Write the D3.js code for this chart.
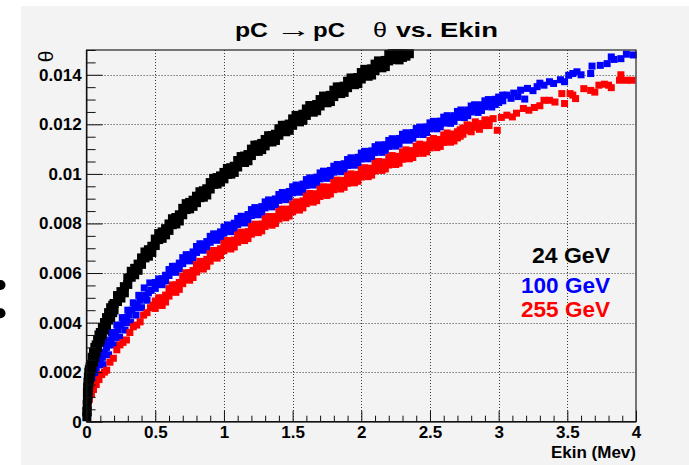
<!DOCTYPE html>
<html><head><meta charset="utf-8">
<script src="https://cdn.jsdelivr.net/npm/d3@7"></script>
<style>
body{margin:0;background:#fff}
svg{display:block}
text{font-family:"Liberation Sans",Arial,Helvetica,sans-serif}
</style>
</head><body>
<svg id="c" width="689" height="465"></svg>
<script>
// ---------- data ----------
const xMajorTicks = [0, 0.5, 1, 1.5, 2, 2.5, 3, 3.5, 4];
const yMajorTicks = [0, 0.002, 0.004, 0.006, 0.008, 0.01, 0.012, 0.014];
const seriesNames = ["24 GeV", "100 GeV", "255 GeV"];
const seriesColors = ["#000000", "#0000ff", "#ff0000"];

// each row: [Ekin (MeV), theta values read at that Ekin ...]
const rows24 = [
[0.002,0.0004,0.0002],[0.004,0.0007,0.0004],[0.006,0.0009,0.0012],[0.008,0.0010,0.0014],[0.01,0.0011,0.0016],
[0.013,0.0013,0.0018],[0.016,0.0015,0.0020],[0.02,0.0017,0.0021],[0.025,0.0018,0.0022],[0.03,0.0020,0.0023],
[0.04,0.0022,0.0026],[0.05,0.0024,0.0028],[0.06,0.0026,0.0030],[0.07,0.0028,0.0031],[0.08,0.0030,0.0033],
[0.09,0.0032,0.0035],[0.1,0.0033,0.0036],[0.115,0.0035,0.0038],[0.13,0.0037,0.0040],[0.145,0.0039,0.0042],
[0.16,0.0041,0.0044],[0.175,0.0042,0.0046],[0.19,0.0044,0.0047],
[0.200,0.00477,0.00451],[0.225,0.00485,0.00509],[0.250,0.00499,0.00525],[0.275,0.00545,0.00520],
[0.300,0.00580,0.00554],[0.325,0.00583,0.00607],[0.350,0.00593,0.00619],[0.375,0.00636,0.00611],
[0.400,0.00661,0.00635],[0.425,0.00661,0.00685],[0.450,0.00668,0.00694],[0.475,0.00708,0.00683],
[0.500,0.00737,0.00711],[0.525,0.00735,0.00759],[0.550,0.00740,0.00766],[0.575,0.00779,0.00754],
[0.600,0.00798,0.00772],[0.625,0.00795,0.00819],[0.650,0.00798,0.00824],[0.675,0.00835,0.00810],
[0.700,0.00861,0.00835],[0.725,0.00856,0.00880],[0.750,0.00859,0.00885],[0.775,0.00894,0.00869],
[0.800,0.00910,0.00884],[0.825,0.00904,0.00928],[0.850,0.00906,0.00932],[0.875,0.00940,0.00915],
[0.900,0.00965,0.00939],[0.925,0.00958,0.00982],[0.950,0.00959,0.00985],[0.975,0.00992,0.00967],
[1.000,0.01006,0.00980],[1.025,0.00998,0.01022],[1.050,0.00999,0.01025],[1.075,0.01031,0.01006],
[1.100,0.01054,0.01028],[1.125,0.01046,0.01070],[1.150,0.01046,0.01072],[1.175,0.01078,0.01053],
[1.200,0.01100,0.01074],[1.225,0.01092,0.01116],[1.250,0.01091,0.01117],[1.275,0.01123,0.01098],
[1.300,0.01139,0.01113],[1.325,0.01130,0.01154],[1.350,0.01129,0.01155],[1.375,0.01160,0.01135],
[1.400,0.01182,0.01156],[1.425,0.01172,0.01196],[1.450,0.01170,0.01196],[1.475,0.01201,0.01176],
[1.500,0.01222,0.01196],[1.525,0.01212,0.01236],[1.550,0.01210,0.01236],[1.575,0.01241,0.01216],
[1.600,0.01262,0.01236],[1.625,0.01252,0.01276],[1.650,0.01249,0.01275],[1.675,0.01280,0.01255],
[1.700,0.01300,0.01274],[1.725,0.01290,0.01314],[1.750,0.01287,0.01313],[1.775,0.01317,0.01292],
[1.800,0.01338,0.01312],[1.825,0.01327,0.01351],[1.850,0.01324,0.01350],[1.875,0.01354,0.01329],
[1.900,0.01374,0.01348],[1.925,0.01363,0.01387],[1.950,0.01360,0.01386],[1.975,0.01389,0.01364],
[2.000,0.01409,0.01383],[2.025,0.01398,0.01422],[2.050,0.01394,0.01420],[2.075,0.01424,0.01399],
[2.100,0.01443,0.01417],[2.125,0.01432,0.01456],[2.150,0.01428,0.01454],[2.175,0.01458,0.01433],
[2.200,0.01482,0.01456],[2.225,0.01465,0.01485],[2.250,0.01462,0.01485],[2.275,0.01485,0.01460],
[2.300,0.01485,0.01470],[2.325,0.01475],[2.350,0.01485]
];

const rows100 = [
[0.003,0.0004],[0.006,0.0008],[0.01,0.0011],[0.015,0.0014],[0.02,0.0012],[0.03,0.0016],[0.04,0.0018],
[0.05,0.0016],[0.06,0.0020,0.0024],[0.07,0.0021],[0.08,0.0019],[0.085,0.0023],[0.1,0.0025,0.0028],
[0.115,0.0026],[0.12,0.0023],[0.13,0.0028],[0.14,0.0032],[0.145,0.0030],[0.16,0.0031,0.0027],
[0.175,0.0033],[0.18,0.0036],[0.19,0.0034],[0.2,0.0031],[0.21,0.0036],[0.22,0.0039],[0.23,0.0037],
[0.24,0.0034],[0.25,0.0039],[0.26,0.0042],[0.27,0.0040],[0.28,0.0037],[0.29,0.0042],[0.3,0.0045],
[0.31,0.0043],[0.32,0.0040],[0.33,0.0045],[0.34,0.0048],[0.35,0.0046],[0.36,0.0043],[0.37,0.0047],
[0.38,0.0051],[0.39,0.0049],[0.4,0.0046],[0.41,0.0050],[0.42,0.0054],[0.43,0.0051],[0.44,0.0049],
[0.45,0.0052],[0.46,0.0056],[0.47,0.0053],
[0.500,0.00562,0.00538],[0.525,0.00554,0.00576],[0.550,0.00553,0.00577],[0.575,0.00591,0.00568],
[0.600,0.00614,0.00590],[0.625,0.00605,0.00627],[0.650,0.00603,0.00627],[0.675,0.00640,0.00617],
[0.700,0.00662,0.00638],[0.725,0.00652,0.00674],[0.750,0.00649,0.00673],[0.775,0.00685,0.00662],
[0.800,0.00707,0.00683],[0.825,0.00696,0.00718],[0.850,0.00692,0.00716],[0.875,0.00727,0.00704],
[0.900,0.00748,0.00724],[0.925,0.00736,0.00758],[0.950,0.00732,0.00756],[0.975,0.00766,0.00743],
[1.000,0.00785,0.00761],[1.025,0.00772,0.00794],[1.050,0.00767,0.00791],[1.075,0.00801,0.00778],
[1.100,0.00820,0.00796],[1.125,0.00807,0.00829],[1.150,0.00802,0.00826],[1.175,0.00836,0.00813],
[1.200,0.00856,0.00832],[1.225,0.00842,0.00864],[1.250,0.00835,0.00859],[1.275,0.00868,0.00845],
[1.300,0.00887,0.00863],[1.325,0.00873,0.00895],[1.350,0.00867,0.00891],[1.375,0.00899,0.00876],
[1.400,0.00917,0.00893],[1.425,0.00903,0.00925],[1.450,0.00896,0.00920],[1.475,0.00929,0.00906],
[1.500,0.00948,0.00924],[1.525,0.00933,0.00955],[1.550,0.00926,0.00950],[1.575,0.00959,0.00936],
[1.600,0.00977,0.00953],[1.625,0.00962,0.00984],[1.650,0.00955,0.00979],[1.675,0.00987,0.00964],
[1.700,0.01004,0.00980],[1.725,0.00989,0.01011],[1.750,0.00982,0.01006],[1.775,0.01014,0.00991],
[1.800,0.01031,0.01007],[1.825,0.01016,0.01038],[1.850,0.01009,0.01033],[1.875,0.01041,0.01018],
[1.900,0.01058,0.01034],[1.925,0.01043,0.01065],[1.950,0.01035,0.01059],[1.975,0.01067,0.01044],
[2.000,0.01084,0.01060],[2.025,0.01069,0.01091],[2.050,0.01061,0.01085],[2.075,0.01093,0.01070],
[2.100,0.01110,0.01086],[2.125,0.01095,0.01117],[2.150,0.01087,0.01111],[2.175,0.01118,0.01095],
[2.200,0.01135,0.01111],[2.225,0.01120,0.01142],[2.250,0.01112,0.01136],[2.275,0.01143,0.01120],
[2.300,0.01160,0.01136],[2.325,0.01144,0.01166],[2.350,0.01136,0.01160],[2.375,0.01167,0.01144],
[2.400,0.01183,0.01159],[2.425,0.01167,0.01189],[2.450,0.01159,0.01183],[2.475,0.01190,0.01167],
[2.500,0.01206,0.01182],[2.525,0.01190,0.01212],[2.550,0.01182,0.01206],[2.575,0.01213,0.01190],
[2.600,0.01229,0.01205],[2.625,0.01213,0.01235],[2.650,0.01204,0.01228],[2.675,0.01235,0.01212],
[2.700,0.01252,0.01228],[2.725,0.01236,0.01258],[2.750,0.01227,0.01251],[2.775,0.01258,0.01235],
[2.800,0.01274,0.01250],[2.825,0.01257,0.01279],[2.850,0.01248,0.01272],[2.875,0.01279,0.01256],
[2.900,0.01295,0.01271],[2.925,0.01279,0.01300],[2.950,0.01270,0.01294],[2.975,0.01301,0.01280],
[3.00,0.01310,0.01288],[3.03,0.01295,0.01318],[3.06,0.01318],[3.09,0.01305],[3.11,0.01326],[3.14,0.01312],
[3.16,0.01338],[3.19,0.01302],[3.21,0.01345],[3.25,0.01336],[3.28,0.01352],[3.30,0.01366],
[3.33,0.01358],[3.37,0.01372],[3.40,0.01365],[3.45,0.01380],[3.48,0.01372],[3.51,0.01398],
[3.54,0.01405],[3.57,0.01412],[3.60,0.01400],[3.67,0.01405],[3.68,0.01435],[3.74,0.01438],
[3.79,0.01445],[3.82,0.01472],[3.84,0.01462],[3.89,0.01465],[3.93,0.01483],[3.98,0.01480]
];

const rows255 = [
[0.005,0.0004],[0.01,0.0007],[0.02,0.0009],[0.035,0.0011],[0.05,0.0013],[0.07,0.0015],[0.09,0.0017],
[0.11,0.0019],[0.13,0.0020],[0.146,0.00208],[0.17,0.0024],[0.195,0.00256],[0.22,0.0029],[0.243,0.0031],
[0.265,0.0032],[0.29,0.0033],[0.315,0.0036],[0.34,0.00383],[0.365,0.0039],[0.39,0.00403],[0.415,0.0043],
[0.44,0.0044],[0.465,0.0046],[0.486,0.0047],
[0.500,0.00487,0.00457],[0.525,0.00473,0.00500],[0.550,0.00469,0.00499],[0.575,0.00511,0.00483],
[0.600,0.00537,0.00507],[0.625,0.00525,0.00552],[0.650,0.00522,0.00552],[0.675,0.00562,0.00534],
[0.700,0.00587,0.00557],[0.725,0.00574,0.00601],[0.750,0.00571,0.00601],[0.775,0.00610,0.00582],
[0.800,0.00634,0.00604],[0.825,0.00620,0.00647],[0.850,0.00616,0.00646],[0.875,0.00655,0.00627],
[0.900,0.00678,0.00648],[0.925,0.00664,0.00691],[0.950,0.00660,0.00690],[0.975,0.00698,0.00670],
[1.000,0.00720,0.00690],[1.025,0.00704,0.00731],[1.050,0.00697,0.00727],[1.075,0.00733,0.00705],
[1.100,0.00754,0.00724],[1.125,0.00738,0.00765],[1.150,0.00731,0.00761],[1.175,0.00767,0.00739],
[1.200,0.00787,0.00757],[1.225,0.00770,0.00797],[1.250,0.00763,0.00793],[1.275,0.00798,0.00770],
[1.300,0.00818,0.00788],[1.325,0.00801,0.00828],[1.350,0.00793,0.00823],[1.375,0.00828,0.00800],
[1.400,0.00848,0.00818],[1.425,0.00831,0.00858],[1.450,0.00823,0.00853],[1.475,0.00858,0.00830],
[1.500,0.00877,0.00847],[1.525,0.00860,0.00887],[1.550,0.00854,0.00884],[1.575,0.00891,0.00863],
[1.600,0.00910,0.00880],[1.625,0.00894,0.00921],[1.650,0.00886,0.00916],[1.675,0.00920,0.00892],
[1.700,0.00939,0.00909],[1.725,0.00921,0.00948],[1.750,0.00913,0.00943],[1.775,0.00947,0.00919],
[1.800,0.00966,0.00936],[1.825,0.00948,0.00975],[1.850,0.00939,0.00969],[1.875,0.00974,0.00946],
[1.900,0.00992,0.00962],[1.925,0.00973,0.01000],[1.950,0.00964,0.00994],[1.975,0.00998,0.00970],
[2.000,0.01017,0.00987],[2.025,0.00998,0.01025],[2.050,0.00989,0.01019],[2.075,0.01023,0.00995],
[2.100,0.01042,0.01012],[2.125,0.01023,0.01050],[2.150,0.01014,0.01044],[2.175,0.01048,0.01020],
[2.200,0.01066,0.01036],[2.225,0.01047,0.01074],[2.250,0.01038,0.01068],[2.275,0.01071,0.01043],
[2.300,0.01089,0.01059],[2.325,0.01070,0.01097],[2.350,0.01061,0.01091],[2.375,0.01094,0.01066],
[2.400,0.01112,0.01082],[2.425,0.01093,0.01120],[2.450,0.01083,0.01113],[2.475,0.01117,0.01089],
[2.500,0.01135,0.01105],[2.525,0.01116,0.01143],[2.550,0.01106,0.01136],[2.575,0.01139,0.01111],
[2.600,0.01157,0.01127],[2.625,0.01138,0.01165],[2.650,0.01128,0.01158],[2.675,0.01161,0.01133],
[2.70,0.01170,0.01145],[2.72,0.01152,0.01178],[2.74,0.01185,0.01160],[2.77,0.01175,0.01198],
[2.80,0.01195,0.01170],[2.83,0.01188,0.01210],[2.86,0.01203,0.01180],[2.90,0.01195,0.01218],
[2.93,0.01217,0.01195],[2.96,0.01223],[2.99,0.01176],[3.02,0.01228],
[3.06,0.01237],[3.10,0.01230],[3.13,0.01245],[3.18,0.01264],[3.22,0.01257],[3.26,0.01268],
[3.30,0.01275],[3.33,0.01297],[3.37,0.01297],[3.41,0.01290],[3.46,0.01324],[3.48,0.01284],
[3.52,0.01324],[3.54,0.01318],[3.56,0.01304],[3.62,0.01344],[3.67,0.01337],[3.70,0.01330],
[3.73,0.01358],[3.77,0.01362],[3.80,0.01358],[3.82,0.01348],[3.88,0.01378],[3.89,0.01400],
[3.93,0.01378],[3.97,0.01378]
];

// ---------- drawing ----------
const toPoints = rows => rows.flatMap(r => r.slice(1).map(t => [r[0], t]));
const svg = d3.select("#c");
const W = 689, H = 465;
const L = 86.6, R = 636, T = 50, B = 421.7;
const BG = "#f3f3f3";

svg.append("rect").attr("width", W).attr("height", H).attr("fill", "#ffffff");
svg.append("rect").attr("x", 21).attr("y", 6).attr("width", W - 21).attr("height", H - 6).attr("fill", BG);

// stray dots at the left edge
svg.append("circle").attr("cx", 0.5).attr("cy", 285).attr("r", 5).attr("fill", "#000");
svg.append("circle").attr("cx", 0.5).attr("cy", 313.3).attr("r", 5).attr("fill", "#000");

const x = d3.scaleLinear().domain([0, 4]).range([L, R]);
const y = d3.scaleLinear().domain([0, 0.015]).range([B, T]);

// grid
const grid = svg.append("g").attr("stroke", "#3a3a3a").attr("stroke-width", 1).attr("stroke-dasharray", "1,2");
grid.selectAll(".gx").data(xMajorTicks.filter(d => d > 0 && d < 4)).join("line")
  .attr("x1", d => Math.round(x(d)) + 0.5).attr("x2", d => Math.round(x(d)) + 0.5)
  .attr("y1", T).attr("y2", B);
grid.selectAll(".gy").data(yMajorTicks.filter(d => d > 0)).join("line")
  .attr("y1", d => Math.round(y(d)) + 0.5).attr("y2", d => Math.round(y(d)) + 0.5)
  .attr("x1", L).attr("x2", R);

// markers
function drawSeries(rows, color, size) {
  svg.append("g").selectAll("rect").data(toPoints(rows)).join("rect")
    .attr("x", d => x(d[0]) - size / 2)
    .attr("y", d => y(d[1]) - size / 2)
    .attr("width", size).attr("height", size)
    .attr("fill", color);
}
drawSeries(rows100, seriesColors[1], 7);
drawSeries(rows255, seriesColors[2], 7);
drawSeries(rows24, seriesColors[0], 9);

// frame
svg.append("rect").attr("x", L).attr("y", T).attr("width", R - L).attr("height", B - T)
  .attr("fill", "none").attr("stroke", "#222").attr("stroke-width", 1.2);

// axes
const fmtY = d => d === 0 ? "0" : String(+d.toFixed(3));
const fmtX = d => String(d);
const xMinor = d3.range(0, 4.0001, 0.1).filter(v => Math.abs(v * 2 - Math.round(v * 2)) > 1e-6);
const yMinor = d3.range(0, 0.01501, 0.0005).filter(v => Math.abs(v / 0.002 - Math.round(v / 0.002)) > 1e-6);

function styleAxis(g) {
  g.select(".domain").remove();
  g.selectAll("line").attr("stroke", "#111").attr("stroke-width", 1);
  g.selectAll("text").attr("font-family", '"Liberation Sans",Arial,sans-serif')
    .attr("font-size", 17).attr("font-weight", "bold").attr("fill", "#000");
}
svg.append("g").attr("transform", `translate(0,${B})`)
  .call(d3.axisBottom(x).tickValues(xMinor).tickSize(-6).tickFormat(""))
  .call(styleAxis);
svg.append("g").attr("transform", `translate(0,${B})`)
  .call(d3.axisBottom(x).tickValues(xMajorTicks).tickSize(-11).tickPadding(4).tickFormat(fmtX))
  .call(styleAxis);
svg.append("g").attr("transform", `translate(${L},0)`)
  .call(d3.axisLeft(y).tickValues(yMinor).tickSize(-9).tickFormat(""))
  .call(styleAxis);
svg.append("g").attr("transform", `translate(${L},0)`)
  .call(d3.axisLeft(y).tickValues(yMajorTicks).tickSize(-16).tickPadding(5).tickFormat(fmtY))
  .call(styleAxis);

// axis lines
svg.append("line").attr("x1", L).attr("x2", R).attr("y1", B).attr("y2", B).attr("stroke", "#111").attr("stroke-width", 1.5);
svg.append("line").attr("x1", L).attr("x2", L).attr("y1", T).attr("y2", B).attr("stroke", "#111").attr("stroke-width", 1.5);

// axis titles
svg.append("text").attr("x", R).attr("y", 458).attr("text-anchor", "end")
  .attr("font-size", 17).attr("font-weight", "bold").text("Ekin (Mev)");
svg.append("text").attr("transform", "translate(53,50.5) rotate(-90)").attr("text-anchor", "end")
  .attr("font-size", 21).attr("font-family", '"DejaVu Serif","Liberation Serif",serif').text("θ");

// title
const title = [
  {t: "pC", x: 235, w: 33, bold: true},
  {t: "pC", x: 313, w: 32, bold: true},
  {t: "θ", x: 373, w: 14, bold: false},
  {t: "vs.", x: 396, w: 37, bold: true},
  {t: "Ekin", x: 440, w: 58, bold: true}
];
svg.append("g").selectAll("text").data(title).join("text")
  .attr("x", d => d.x).attr("y", 37)
  .attr("font-size", 21)
  .attr("font-weight", d => d.bold ? "bold" : "normal")
  .attr("textLength", d => d.w).attr("lengthAdjust", "spacingAndGlyphs")
  .text(d => d.t);
svg.append("text").attr("transform", "translate(276,37) scale(1.7,1)")
  .attr("font-size", 21).attr("font-family", '"DejaVu Sans",sans-serif').text("→");

// legend
const legendY = [263.3, 293.3, 317.3];
const legendW = [78, 89, 89];
svg.append("g").selectAll("text").data(seriesNames).join("text")
  .attr("x", 610).attr("y", (d, i) => legendY[i]).attr("text-anchor", "end")
  .attr("font-size", 22).attr("font-weight", "bold")
  .attr("fill", (d, i) => seriesColors[i])
  .attr("textLength", (d, i) => legendW[i]).attr("lengthAdjust", "spacingAndGlyphs")
  .text(d => d);
</script>
</body></html>
